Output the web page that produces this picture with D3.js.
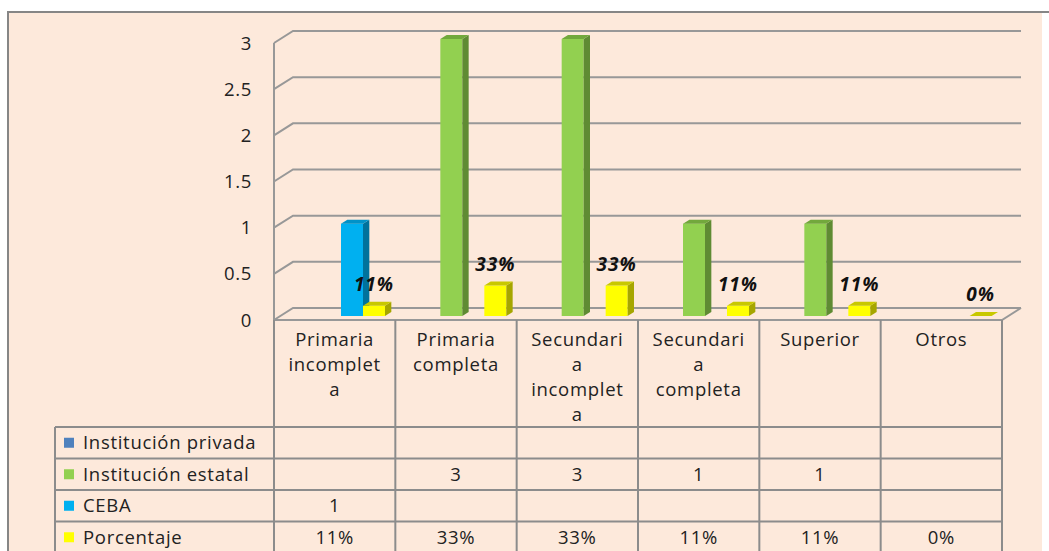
<!DOCTYPE html>
<html>
<head>
<meta charset="utf-8">
<script src="https://cdn.jsdelivr.net/npm/d3@7"></script>
<style>
  body { margin: 0; background: #fff; }
  svg { display: block; font-family: "Open Sans", sans-serif; }
  .lbl { font-size: 18.5px; letter-spacing: 0.7px; fill: #222; }
</style>
</head>
<body>
<div id="chart"></div>
<script>
const categories = ["Primaria incompleta", "Primaria completa", "Secundaria incompleta", "Secundaria completa", "Superior", "Otros"];
const categoryLines = [["Primaria", "incomplet", "a"], ["Primaria", "completa"], ["Secundari", "a", "incomplet", "a"], ["Secundari", "a", "completa"], ["Superior"], ["Otros"]];
const seriesNames = ["Institución privada", "Institución estatal", "CEBA", "Porcentaje"];
const privada = [null, null, null, null, null, null];
const estatal = [null, 3, 3, 1, 1, null];
const ceba = [1, null, null, null, null, null];
const porcentaje = [0.11, 0.33, 0.33, 0.11, 0.11, 0];
const porcentajeText = ["11%", "33%", "33%", "11%", "11%", "0%"];
const yTicks = [0, 0.5, 1, 1.5, 2, 2.5, 3];

const width = 1049, height = 551;

// colours for each series: front, side, top
const colors = {
    "Institución privada": ["#4f81bd", "#385d8a", "#4272a8"],
    "Institución estatal": ["#92d050", "#5f8b33", "#72a83c"],
    "CEBA": ["#00b0f0", "#00729c", "#0092c8"],
    "Porcentaje": ["#ffff00", "#a6a600", "#c8c800"]
};

let seriesValues = {
    "Institución privada": privada,
    "Institución estatal": estatal,
    "CEBA": ceba,
    "Porcentaje": porcentaje
};
let tableText = {
    "Institución privada": privada.map(d => d == null ? "" : d),
    "Institución estatal": estatal.map(d => d == null ? "" : d),
    "CEBA": ceba.map(d => d == null ? "" : d),
    "Porcentaje": porcentajeText
};

let svg = d3.select("#chart")
    .append("svg")
    .attr("width", width)
    .attr("height", height);

// frame
svg.append("rect")
    .attr("x", 8).attr("y", 12)
    .attr("width", 1034).attr("height", height)
    .attr("fill", "#fde9db");
svg.append("path")
    .attr("d", `M8,${height} V12 H${width}`)
    .attr("fill", "none")
    .attr("stroke", "#868686")
    .attr("stroke-width", 2);

let x = d3.scaleBand()
    .domain(categories)
    .range([274, 1002]);

let xInner = d3.scaleBand()
    .domain(seriesNames)
    .range([0, x.bandwidth()])
    .paddingOuter(0.758);

let y = d3.scaleLinear()
    .domain([0, 3])
    .range([320, 43]);

// depth of the 3d box
let depth = { dx: 19, dy: -12 };

let grid = svg.append("g")
    .attr("stroke", "#989898")
    .attr("stroke-width", 2)
    .attr("fill", "none");

grid.selectAll("path.tick")
    .data(yTicks)
    .enter()
    .append("path")
    .attr("class", "tick")
    .attr("d", d => `M${x.range()[0]},${y(d)} l${depth.dx},${depth.dy} H${x.range()[1] + depth.dx}`);

grid.append("path")
    .attr("d", `M${x.range()[0]},${y(3)} V${y(0)} H${x.range()[1]} l${depth.dx},${depth.dy}`);

svg.append("g")
    .selectAll("text")
    .data(yTicks)
    .enter()
    .append("text")
    .attr("class", "lbl")
    .attr("x", 252)
    .attr("y", d => y(d))
    .attr("dy", "0.36em")
    .attr("text-anchor", "end")
    .text(d => d);

// bars
let t0 = 1 / 3, t1 = 2 / 3;
let bars = [];
seriesNames.forEach(s => {
    seriesValues[s].forEach((v, i) => {
        if (v == null) return;
        bars.push({ series: s, category: categories[i], value: v, index: i });
    });
});

let barG = svg.append("g");
bars.forEach(b => {
    let x0 = x(b.category) + xInner(b.series) + depth.dx * t0;
    let x1 = x0 + xInner.bandwidth();
    let top = y(b.value) + depth.dy * t0;
    let bottom = y(0) + depth.dy * t0;
    let ox = depth.dx * (t1 - t0), oy = depth.dy * (t1 - t0);
    let c = colors[b.series];
    let g = barG.append("g");
    if (bottom - top > 0) {
        g.append("rect")
            .attr("x", x0).attr("y", top)
            .attr("width", x1 - x0).attr("height", bottom - top)
            .attr("fill", c[0]);
        g.append("path")
            .attr("d", `M${x1},${top} l${ox},${oy} V${bottom + oy} L${x1},${bottom} Z`)
            .attr("fill", c[1]);
    }
    g.append("path")
        .attr("d", `M${x0},${top} l${ox},${oy} H${x1 + ox} L${x1},${top} Z`)
        .attr("fill", c[2]);

    if (b.series === "Porcentaje") {
        svg.append("text")
            .attr("x", (x0 + x1) / 2)
            .attr("y", top - 15)
            .attr("text-anchor", "middle")
            .style("font-size", "19px")
            .style("letter-spacing", "1px")
            .style("font-weight", "bold")
            .style("font-style", "italic")
            .attr("fill", "#111")
            .text(porcentajeText[b.index]);
    }
});

// data table
let headerTop = 320, headerBottom = 427, rowH = 31.5;
let labelLeft = 55;
let table = svg.append("g")
    .attr("stroke", "#8c8c8c")
    .attr("stroke-width", 2)
    .attr("fill", "none");

x.domain().forEach(c => {
    table.append("line")
        .attr("x1", x(c)).attr("x2", x(c))
        .attr("y1", headerTop).attr("y2", height);
});
table.append("line")
    .attr("x1", x.range()[1]).attr("x2", x.range()[1])
    .attr("y1", headerTop).attr("y2", height);
table.append("line")
    .attr("x1", labelLeft).attr("x2", labelLeft)
    .attr("y1", headerBottom).attr("y2", height);
seriesNames.forEach((s, i) => {
    table.append("line")
        .attr("x1", labelLeft).attr("x2", x.range()[1])
        .attr("y1", headerBottom + i * rowH).attr("y2", headerBottom + i * rowH);
});

// category headers
categoryLines.forEach((lines, i) => {
    let t = svg.append("text")
        .attr("class", "lbl")
        .attr("text-anchor", "middle");
    lines.forEach((line, j) => {
        t.append("tspan")
            .attr("x", x(categories[i]) + x.bandwidth() / 2)
            .attr("y", 346 + j * 25)
            .text(line);
    });
});

// legend rows
seriesNames.forEach((s, i) => {
    let cy = headerBottom + i * rowH + rowH / 2;
    svg.append("rect")
        .attr("x", 64).attr("y", cy - 5)
        .attr("width", 10).attr("height", 10)
        .attr("fill", colors[s][0]);
    svg.append("text")
        .attr("class", "lbl")
        .attr("x", 83).attr("y", cy)
        .attr("dy", "0.36em")
        .text(s);
    tableText[s].forEach((v, j) => {
        svg.append("text")
            .attr("class", "lbl")
            .attr("x", x(categories[j]) + x.bandwidth() / 2)
            .attr("y", cy)
            .attr("dy", "0.36em")
            .attr("text-anchor", "middle")
            .text(v);
    });
});
</script>
</body>
</html>
